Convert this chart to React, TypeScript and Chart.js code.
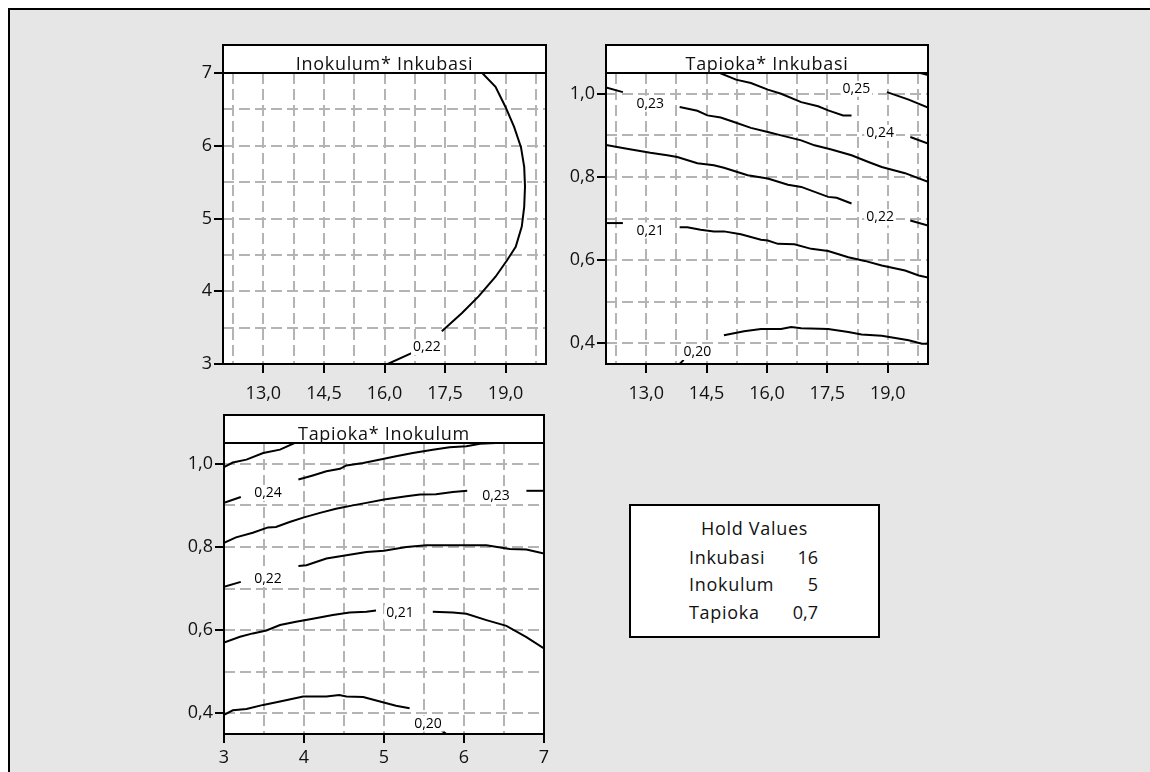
import React, { useEffect, useRef } from 'react';
import { Chart, registerables } from 'chart.js';

Chart.register(...registerables);

const FONT = '"Open Sans", "DejaVu Sans", sans-serif';

// ---------- axes ----------
const inkubasiRange = [12, 20];
const inkubasiMajorTicks = [13.0, 14.5, 16.0, 17.5, 19.0];
const inkubasiGridTicks = [12.25, 13.0, 13.75, 14.5, 15.25, 16.0, 16.75, 17.5, 18.25, 19.0, 19.75];

const inokulumRange = [3, 7];
const inokulumMajorTicks = [3, 4, 5, 6, 7];
const inokulumGridTicks = [3, 3.5, 4, 4.5, 5, 5.5, 6, 6.5, 7];

const tapiokaRange = [0.35, 1.05];
const tapiokaMajorTicks = [0.4, 0.6, 0.8, 1.0];
const tapiokaGridTicks = [0.4, 0.5, 0.6, 0.7, 0.8, 0.9, 1.0];

const panelTitles = ['Inokulum* Inkubasi', 'Tapioka* Inkubasi', 'Tapioka* Inokulum'];

// ---------- contour data (null = gap in line) ----------
// Panel A: x = Inkubasi, y = Inokulum
const aLevel022 = [
  [18.42, 7.0], [18.75, 6.81], [19.0, 6.53], [19.21, 6.26], [19.38, 5.98], [19.46, 5.71],
  [19.48, 5.44], [19.46, 5.16], [19.4, 4.89], [19.25, 4.61], [19.04, 4.43], [18.75, 4.2],
  [18.33, 3.93], [17.92, 3.7], [17.42, 3.45], null, [16.67, 3.15], [16.08, 3.0],
];
const aLabel022 = [17.05, 3.23];

// Panel B: x = Inkubasi, y = Tapioka
const bLevel026 = [[19.81, 1.05], [20.0, 1.045]];
const bLevel025 = [[18.98, 1.004], [19.52, 0.986], [20.0, 0.967]];
const bLabel025 = [18.22, 1.012];
const bLevel024 = [
  [14.83, 1.05], [15.23, 1.034], [15.6, 1.026], [16.02, 1.01], [16.35, 1.0], [16.85, 0.98],
  [17.27, 0.97], [17.52, 0.96], [17.89, 0.948], [18.1, 0.948], null, [19.56, 0.896], [20.0, 0.88],
];
const bLabel024 = [18.81, 0.906];
const bLevel023 = [
  [12.0, 1.015], [12.42, 1.004], null, [13.83, 0.968], [14.27, 0.959], [14.52, 0.948],
  [14.85, 0.943], [15.18, 0.932], [15.6, 0.918], [16.02, 0.908], [16.35, 0.9], [16.85, 0.888],
  [17.18, 0.876], [17.6, 0.866], [18.1, 0.852], [18.52, 0.836], [18.85, 0.824], [19.43, 0.809],
  [20.0, 0.788],
];
const bLabel023 = [13.1, 0.976];
const bLevel022 = [
  [12.0, 0.877], [12.52, 0.868], [13.1, 0.858], [13.52, 0.852], [13.77, 0.848], [14.27, 0.833],
  [14.68, 0.828], [14.93, 0.822], [15.52, 0.804], [16.02, 0.796], [16.52, 0.781], [16.85, 0.776],
  [17.52, 0.752], [17.73, 0.75], [18.1, 0.736], null, [19.56, 0.695], [20.0, 0.683],
];
const bLabel022 = [18.81, 0.703];
const bLevel021 = [
  [12.0, 0.689], [12.42, 0.689], null, [13.83, 0.679], [14.02, 0.679], [14.35, 0.673],
  [14.68, 0.669], [14.93, 0.669], [15.35, 0.662], [15.85, 0.649], [16.02, 0.647], [16.27, 0.639],
  [16.68, 0.638], [17.1, 0.627], [17.52, 0.622], [18.02, 0.607], [18.43, 0.598], [18.85, 0.587],
  [19.43, 0.575], [19.77, 0.563], [20.0, 0.558],
];
const bLabel021 = [13.1, 0.671];
const bLevel020 = [
  [13.83, 0.35], [13.93, 0.36], null, [14.93, 0.419], [15.43, 0.429], [15.85, 0.434],
  [16.35, 0.434], [16.6, 0.439], [16.85, 0.436], [17.52, 0.434], [18.02, 0.427], [18.35, 0.421],
  [18.85, 0.418], [19.52, 0.407], [19.85, 0.399], [20.0, 0.399],
];
const bLabel020 = [14.27, 0.379];

// Panel C: x = Inokulum, y = Tapioka
const cLevel025 = [
  [3.0, 0.992], [3.11, 1.003], [3.28, 1.01], [3.49, 1.026], [3.7, 1.034], [3.86, 1.048], [3.88, 1.05],
];
const cLevel024 = [
  [3.0, 0.906], [3.21, 0.92], null, [3.93, 0.962], [4.11, 0.972], [4.28, 0.982], [4.45, 0.988],
  [4.53, 0.996], [4.74, 1.002], [5.0, 1.012], [5.15, 1.018], [5.36, 1.026], [5.61, 1.034],
  [5.82, 1.04], [6.03, 1.042], [6.2, 1.048], [6.4, 1.05],
];
const cLabel024 = [3.55, 0.93];
const cLevel023 = [
  [3.0, 0.81], [3.15, 0.823], [3.36, 0.834], [3.55, 0.847], [3.65, 0.848], [3.82, 0.86],
  [4.0, 0.871], [4.2, 0.882], [4.4, 0.892], [4.61, 0.9], [4.78, 0.906], [5.0, 0.914],
  [5.28, 0.922], [5.45, 0.926], [5.65, 0.927], [5.86, 0.932], [6.04, 0.935], null,
  [6.78, 0.935], [7.0, 0.935],
];
const cLabel023 = [6.4, 0.922];
const cLevel022 = [
  [3.0, 0.704], [3.21, 0.716], null, [3.93, 0.754], [4.03, 0.756], [4.28, 0.772], [4.53, 0.78],
  [4.78, 0.788], [5.0, 0.791], [5.28, 0.8], [5.53, 0.804], [5.78, 0.804], [6.03, 0.804],
  [6.28, 0.804], [6.57, 0.795], [6.78, 0.794], [7.0, 0.784],
];
const cLabel022 = [3.55, 0.724];
const cLevel021 = [
  [3.0, 0.57], [3.2, 0.584], [3.36, 0.592], [3.53, 0.599], [3.7, 0.612], [3.9, 0.62],
  [4.11, 0.627], [4.36, 0.636], [4.57, 0.642], [4.78, 0.644], [4.9, 0.647], null,
  [5.61, 0.644], [5.86, 0.642], [6.03, 0.639], [6.28, 0.624], [6.53, 0.61], [6.78, 0.583], [7.0, 0.556],
];
const cLabel021 = [5.2, 0.64];
const cLevel020 = [
  [3.0, 0.396], [3.11, 0.407], [3.28, 0.41], [3.49, 0.42], [3.7, 0.428], [3.99, 0.44],
  [4.28, 0.44], [4.44, 0.444], [4.53, 0.44], [4.74, 0.439], [4.95, 0.428], [5.15, 0.418],
  [5.32, 0.412], null, [5.72, 0.358], [5.78, 0.35],
];
const cLabel020 = [5.55, 0.375];

// ---------- hold values ----------
const holdTitle = 'Hold Values';
const holdNames = ['Inkubasi', 'Inokulum', 'Tapioka'];
const holdValues = ['16', '5', '0,7'];

// ---------- helpers ----------
const fmtDec1 = (v: number) => v.toFixed(1).replace('.', ',');
const fmtInt = (v: number) => String(Math.round(v));
const fmtLevel = (v: number) => v.toFixed(2).replace('.', ',');
const isIn = (arr: number[], v: number) => arr.some((m) => Math.abs(m - v) < 1e-6);

type Pt = number[] | null;
interface Contour { level: number; points: Pt[]; label: number[] | null }

const contoursA: Contour[] = [{ level: 0.22, points: aLevel022, label: aLabel022 }];
const contoursB: Contour[] = [
  { level: 0.26, points: bLevel026, label: null },
  { level: 0.25, points: bLevel025, label: bLabel025 },
  { level: 0.24, points: bLevel024, label: bLabel024 },
  { level: 0.23, points: bLevel023, label: bLabel023 },
  { level: 0.22, points: bLevel022, label: bLabel022 },
  { level: 0.21, points: bLevel021, label: bLabel021 },
  { level: 0.20, points: bLevel020, label: bLabel020 },
];
const contoursC: Contour[] = [
  { level: 0.25, points: cLevel025, label: null },
  { level: 0.24, points: cLevel024, label: cLabel024 },
  { level: 0.23, points: cLevel023, label: cLabel023 },
  { level: 0.22, points: cLevel022, label: cLabel022 },
  { level: 0.21, points: cLevel021, label: cLabel021 },
  { level: 0.20, points: cLevel020, label: cLabel020 },
];

function splitSegments(points: Pt[]) {
  const segs: { x: number; y: number }[][] = [];
  let cur: { x: number; y: number }[] = [];
  for (const p of points) {
    if (p === null) {
      if (cur.length) segs.push(cur);
      cur = [];
    } else cur.push({ x: p[0], y: p[1] });
  }
  if (cur.length) segs.push(cur);
  return segs;
}

interface AxisCfg { range: number[]; grid: number[]; major: number[]; fmt: (v: number) => string }
interface PanelCfg {
  title: string; l: number; r: number; t: number; b: number;
  axisW: number; axisH: number; padRight: number; xPad: number;
  x: AxisCfg; y: AxisCfg; contours: Contour[];
}

const HEADER_H = 28;
const PAD_TOP = 34;

const panels: PanelCfg[] = [
  {
    title: panelTitles[0], l: 223, r: 546, t: 73, b: 364, axisW: 80, axisH: 46, padRight: 5, xPad: 10,
    x: { range: inkubasiRange, grid: inkubasiGridTicks, major: inkubasiMajorTicks, fmt: fmtDec1 },
    y: { range: inokulumRange, grid: inokulumGridTicks, major: inokulumMajorTicks, fmt: fmtInt },
    contours: contoursA,
  },
  {
    title: panelTitles[1], l: 606, r: 928, t: 73, b: 364, axisW: 55, axisH: 46, padRight: 20, xPad: 10,
    x: { range: inkubasiRange, grid: inkubasiGridTicks, major: inkubasiMajorTicks, fmt: fmtDec1 },
    y: { range: tapiokaRange, grid: tapiokaGridTicks, major: tapiokaMajorTicks, fmt: fmtDec1 },
    contours: contoursB,
  },
  {
    title: panelTitles[2], l: 224, r: 544, t: 443, b: 734, axisW: 80, axisH: 38, padRight: 12, xPad: 4,
    x: { range: inokulumRange, grid: inokulumGridTicks, major: inokulumMajorTicks, fmt: fmtInt },
    y: { range: tapiokaRange, grid: tapiokaGridTicks, major: tapiokaMajorTicks, fmt: fmtDec1 },
    contours: contoursC,
  },
];

function makeScale(axis: AxisCfg, isX: boolean, cfg: PanelCfg) {
  return {
    type: 'linear',
    position: isX ? 'bottom' : 'left',
    min: axis.range[0],
    max: axis.range[1],
    afterBuildTicks: (scale: any) => {
      scale.ticks = axis.grid.map((v) => ({ value: v }));
    },
    afterFit: (scale: any) => {
      if (isX) scale.height = cfg.axisH;
      else scale.width = cfg.axisW;
    },
    ticks: {
      autoSkip: false,
      maxRotation: 0,
      minRotation: 0,
      padding: isX ? cfg.xPad : 2,
      color: '#111',
      font: { family: FONT, size: 18 },
      callback: (v: any) => (isIn(axis.major, Number(v)) ? axis.fmt(Number(v)) : ''),
    },
    grid: {
      display: true,
      drawOnChartArea: true,
      drawTicks: true,
      color: '#b4b4b4',
      lineWidth: 2,
      borderDash: [11, 5],
      tickLength: 9,
      tickWidth: 2,
      tickBorderDash: [],
      tickColor: (ctx: any) => (ctx.tick && isIn(axis.major, ctx.tick.value) ? '#000' : 'rgba(0,0,0,0)'),
    },
    border: { display: false, dash: [11, 5] },
  };
}

function ContourPanel({ cfg }: { cfg: PanelCfg }) {
  const ref = useRef<HTMLCanvasElement | null>(null);
  const cw = cfg.r - cfg.l + cfg.axisW + cfg.padRight;
  const ch = PAD_TOP + (cfg.b - cfg.t) + cfg.axisH;
  const left = cfg.l - cfg.axisW;
  const top = cfg.t - PAD_TOP;

  useEffect(() => {
    if (!ref.current) return;
    const datasets: any[] = [];
    cfg.contours.forEach((c) => {
      splitSegments(c.points).forEach((seg) => {
        datasets.push({
          data: seg,
          showLine: true,
          borderColor: '#000',
          borderWidth: 2,
          pointRadius: 0,
          pointHoverRadius: 0,
          fill: false,
          tension: 0,
        });
      });
    });

    const bgPlugin = {
      id: 'plotBg',
      beforeDraw(chart: any) {
        const { ctx, chartArea: a } = chart;
        ctx.save();
        ctx.fillStyle = '#fff';
        ctx.fillRect(a.left, a.top, a.right - a.left, a.bottom - a.top);
        ctx.restore();
      },
    };

    const labelPlugin = {
      id: 'contourLabels',
      afterDatasetsDraw(chart: any) {
        const { ctx } = chart;
        const xs = chart.scales.x;
        const ys = chart.scales.y;
        ctx.save();
        ctx.font = `14px ${FONT}`;
        ctx.textAlign = 'center';
        ctx.textBaseline = 'middle';
        cfg.contours.forEach((c) => {
          if (!c.label) return;
          const text = fmtLevel(c.level);
          const px = xs.getPixelForValue(c.label[0]);
          const py = ys.getPixelForValue(c.label[1]);
          const w = ctx.measureText(text).width;
          ctx.fillStyle = '#fff';
          ctx.fillRect(px - w / 2 - 2, py - 8, w + 4, 16);
          ctx.fillStyle = '#000';
          ctx.fillText(text, px, py);
        });
        ctx.restore();
      },
    };

    const framePlugin = {
      id: 'panelFrame',
      afterDraw(chart: any) {
        const { ctx, chartArea: a } = chart;
        ctx.save();
        ctx.fillStyle = '#fff';
        ctx.fillRect(a.left, a.top - HEADER_H, a.right - a.left, HEADER_H);
        ctx.strokeStyle = '#000';
        ctx.lineWidth = 2;
        ctx.strokeRect(a.left, a.top - HEADER_H, a.right - a.left, a.bottom - a.top + HEADER_H);
        ctx.beginPath();
        ctx.moveTo(a.left, a.top);
        ctx.lineTo(a.right, a.top);
        ctx.stroke();
        ctx.fillStyle = '#111';
        ctx.font = `18px ${FONT}`;
        try { (ctx as any).letterSpacing = '0.7px'; } catch (e) { /* ignore */ }
        ctx.textAlign = 'center';
        ctx.textBaseline = 'alphabetic';
        ctx.fillText(cfg.title, (a.left + a.right) / 2, a.top - 3);
        ctx.restore();
      },
    };

    const chart = new Chart(ref.current, {
      type: 'scatter',
      data: { datasets },
      options: {
        responsive: false,
        animation: false,
        events: [],
        devicePixelRatio: 1,
        layout: { padding: { top: PAD_TOP, right: cfg.padRight, left: 0, bottom: 0 } },
        plugins: { legend: { display: false }, tooltip: { enabled: false }, title: { display: false } },
        scales: {
          x: makeScale(cfg.x, true, cfg) as any,
          y: makeScale(cfg.y, false, cfg) as any,
        },
      },
      plugins: [bgPlugin, labelPlugin, framePlugin],
    } as any);
    return () => chart.destroy();
  }, []);

  return (
    <canvas
      ref={ref}
      width={cw}
      height={ch}
      style={{ position: 'fixed', left, top, width: cw, height: ch }}
    />
  );
}

function HoldBox() {
  const textStyle: React.CSSProperties = {
    position: 'fixed',
    height: 24,
    lineHeight: '24px',
    fontFamily: FONT,
    fontSize: 18,
    letterSpacing: '0.7px',
    color: '#111',
    whiteSpace: 'nowrap',
  };
  const rowCenters = [557, 584, 612];
  return (
    <>
      <div
        style={{
          position: 'fixed', left: 629, top: 504, width: 251, height: 134,
          border: '2px solid #000', boxSizing: 'border-box', background: '#fff',
        }}
      />
      <div style={{ ...textStyle, left: 629, width: 251, top: 528 - 12, textAlign: 'center' }}>{holdTitle}</div>
      {holdNames.map((n, i) => (
        <React.Fragment key={n}>
          <div style={{ ...textStyle, left: 689, top: rowCenters[i] - 12 }}>{n}</div>
          <div style={{ ...textStyle, left: 760, width: 58, top: rowCenters[i] - 12, textAlign: 'right', letterSpacing: '0px' }}>
            {holdValues[i]}
          </div>
        </React.Fragment>
      ))}
    </>
  );
}

export default function App() {
  return (
    <div>
      <div
        style={{
          position: 'fixed', left: 8, top: 8, width: 1142, height: 764,
          background: '#e6e6e6', borderTop: '2px solid #000', borderLeft: '2px solid #000',
          boxSizing: 'border-box',
        }}
      />
      {panels.map((p, i) => (
        <ContourPanel key={i} cfg={p} />
      ))}
      <HoldBox />
    </div>
  );
}
